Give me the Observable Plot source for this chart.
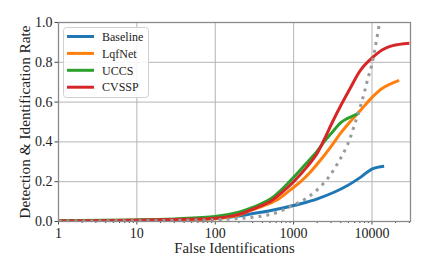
<!DOCTYPE html>
<html>
<head>
<meta charset="utf-8">
<script src="https://cdn.jsdelivr.net/npm/d3@7"></script>
<script src="https://cdn.jsdelivr.net/npm/@observablehq/plot@0.6"></script>
<style>
  html, body { margin: 0; padding: 0; background: #fff; }
  #wrap { position: relative; width: 428px; height: 275px; font-family: "Liberation Serif", serif; }
  #legend { position: absolute; left: 63px; top: 27px; }
</style>
</head>
<body>
<div id="wrap"><div id="chart"></div><div id="legend"></div></div>
<script>
const seriesNames = ["Baseline", "LqfNet", "UCCS", "CVSSP"];
const seriesColors = ["#1f77b4", "#ff7f0e", "#2ca02c", "#d62728"];
const refColor = "#9a9a9a";

const baselineX = [1, 10, 30, 100, 200, 283, 462, 754, 1230, 2010, 3280, 4880, 7190, 10100, 14300];
const baselineY = [0.003, 0.006, 0.01, 0.016, 0.028, 0.038, 0.052, 0.069, 0.089, 0.114, 0.147, 0.181, 0.223, 0.265, 0.278];

const lqfnetX = [1, 10, 30, 100, 200, 283, 418, 621, 918, 1230, 1650, 2220, 2980, 4000, 5360, 7190, 10100, 13600, 22200];
const lqfnetY = [0.003, 0.006, 0.009, 0.014, 0.032, 0.056, 0.08, 0.11, 0.16, 0.2, 0.25, 0.31, 0.375, 0.445, 0.505, 0.56, 0.625, 0.67, 0.709];

const uccsX = [1, 10, 30, 100, 200, 283, 380, 510, 754, 1000, 1360, 2010, 2500, 3130, 4000, 4880, 6840];
const uccsY = [0.004, 0.008, 0.013, 0.025, 0.047, 0.067, 0.088, 0.114, 0.172, 0.222, 0.28, 0.355, 0.405, 0.45, 0.497, 0.518, 0.545];

const cvsspX = [1, 10, 30, 100, 200, 283, 380, 510, 754, 1000, 1500, 2010, 2440, 3130, 4000, 5360, 7190, 10100, 13600, 18300, 30000];
const cvsspY = [0.003, 0.006, 0.01, 0.016, 0.036, 0.058, 0.078, 0.102, 0.155, 0.2, 0.277, 0.345, 0.41, 0.5, 0.583, 0.675, 0.762, 0.823, 0.863, 0.884, 0.896];

const refX = [1, 10, 30, 100, 200, 300, 418, 560, 754, 966, 1230, 1575, 2010, 2700, 3620, 4860, 6210, 7700, 8750, 10100, 12300];
const refY = [0.002, 0.004, 0.006, 0.009, 0.015, 0.021, 0.029, 0.04, 0.06, 0.08, 0.1, 0.126, 0.16, 0.214, 0.29, 0.385, 0.505, 0.625, 0.71, 0.8, 0.985];

const xMajorTicks = [1, 10, 100, 1000, 10000];
const xTickLabels = ["1", "10", "100", "1000", "10000"];
const yTicks = [0, 0.2, 0.4, 0.6, 0.8, 1.0];
const xDomain = [1, 31000];
const yDomain = [0, 1];
const xLabel = "False Identifications";
const yLabel = "Detection & Identification Rate";

const xMinorTicks = [];
for (let e = 0; e < 5; e++) for (let k = 2; k <= 9; k++) {
  const v = k * 10 ** e;
  if (v <= xDomain[1]) xMinorTicks.push(v);
}

const seriesData = [
  {x: baselineX, y: baselineY},
  {x: lqfnetX, y: lqfnetY},
  {x: uccsX, y: uccsY},
  {x: cvsspX, y: cvsspY}
].map((s, i) => s.x.map((x, j) => ({x, y: s.y[j], name: seriesNames[i]})));
const refData = refX.map((x, j) => ({x, y: refY[j]}));

const gridColor = "#b4b4b4";
const spineColor = "#8a8a8a";

const chart = Plot.plot({
  width: 428,
  height: 275,
  marginLeft: 58,
  marginRight: 18,
  marginTop: 22,
  marginBottom: 54,
  style: {fontFamily: "'Liberation Serif', serif", fontSize: "14px", color: "#222", background: "#fff"},
  x: {type: "log", domain: xDomain},
  y: {domain: yDomain},
  marks: [
    Plot.gridX(xMajorTicks, {stroke: gridColor, strokeOpacity: 1, strokeWidth: 1}),
    Plot.gridY(yTicks, {stroke: gridColor, strokeOpacity: 1, strokeWidth: 1}),
    Plot.axisX({ticks: xMinorTicks, tickSize: 2, tickFormat: () => "", label: null, stroke: "#444"}),
    Plot.axisX({ticks: xMajorTicks, tickSize: 3.5, tickPadding: 3, tickFormat: (d) => xTickLabels[xMajorTicks.indexOf(d)], label: null, stroke: "#444", fontSize: 14}),
    Plot.axisY({ticks: yTicks, tickSize: 3.5, tickPadding: 2.5, tickFormat: d3.format(".1f"), label: null, stroke: "#444", fontSize: 14}),
    ...seriesData.map((d, i) => Plot.line(d, {x: "x", y: "y", stroke: seriesColors[i], strokeWidth: 3, curve: "catmull-rom", clip: true, strokeLinecap: "butt"})),
    Plot.line(refData, {x: "x", y: "y", stroke: refColor, strokeWidth: 3, strokeDasharray: "3,5", strokeLinecap: "butt", curve: "catmull-rom", clip: true}),
    Plot.frame({stroke: spineColor, strokeWidth: 1.3}),
    Plot.text([xLabel], {text: (d) => d, frameAnchor: "bottom", dy: 27, lineAnchor: "middle", fontSize: 14.8, fill: "#222"}),
    Plot.text([yLabel], {text: (d) => d, frameAnchor: "left", dx: -33, rotate: -90, lineAnchor: "middle", textAnchor: "middle", fontSize: 15.3, fill: "#222"})
  ]
});
document.getElementById("chart").appendChild(chart);

// Legend
const lw = 86, lh = 71, rowH = 16.9, row0 = 9.5;
const leg = d3.select("#legend").append("svg").attr("width", lw).attr("height", lh)
  .style("font-family", "'Liberation Serif', serif").style("font-size", "12px");
leg.append("rect").attr("x", 0.5).attr("y", 0.5).attr("width", lw - 1).attr("height", lh - 1)
  .attr("rx", 3).attr("fill", "rgba(255,255,255,0.85)").attr("stroke", "#d0d0d0");
seriesNames.forEach((n, i) => {
  const yy = row0 + i * rowH;
  leg.append("line").attr("x1", 4).attr("x2", 31).attr("y1", yy).attr("y2", yy)
    .attr("stroke", seriesColors[i]).attr("stroke-width", 3);
  leg.append("text").attr("x", 39).attr("y", yy).attr("dy", "0.35em").attr("fill", "#222").text(n);
});
</script>
</body>
</html>
